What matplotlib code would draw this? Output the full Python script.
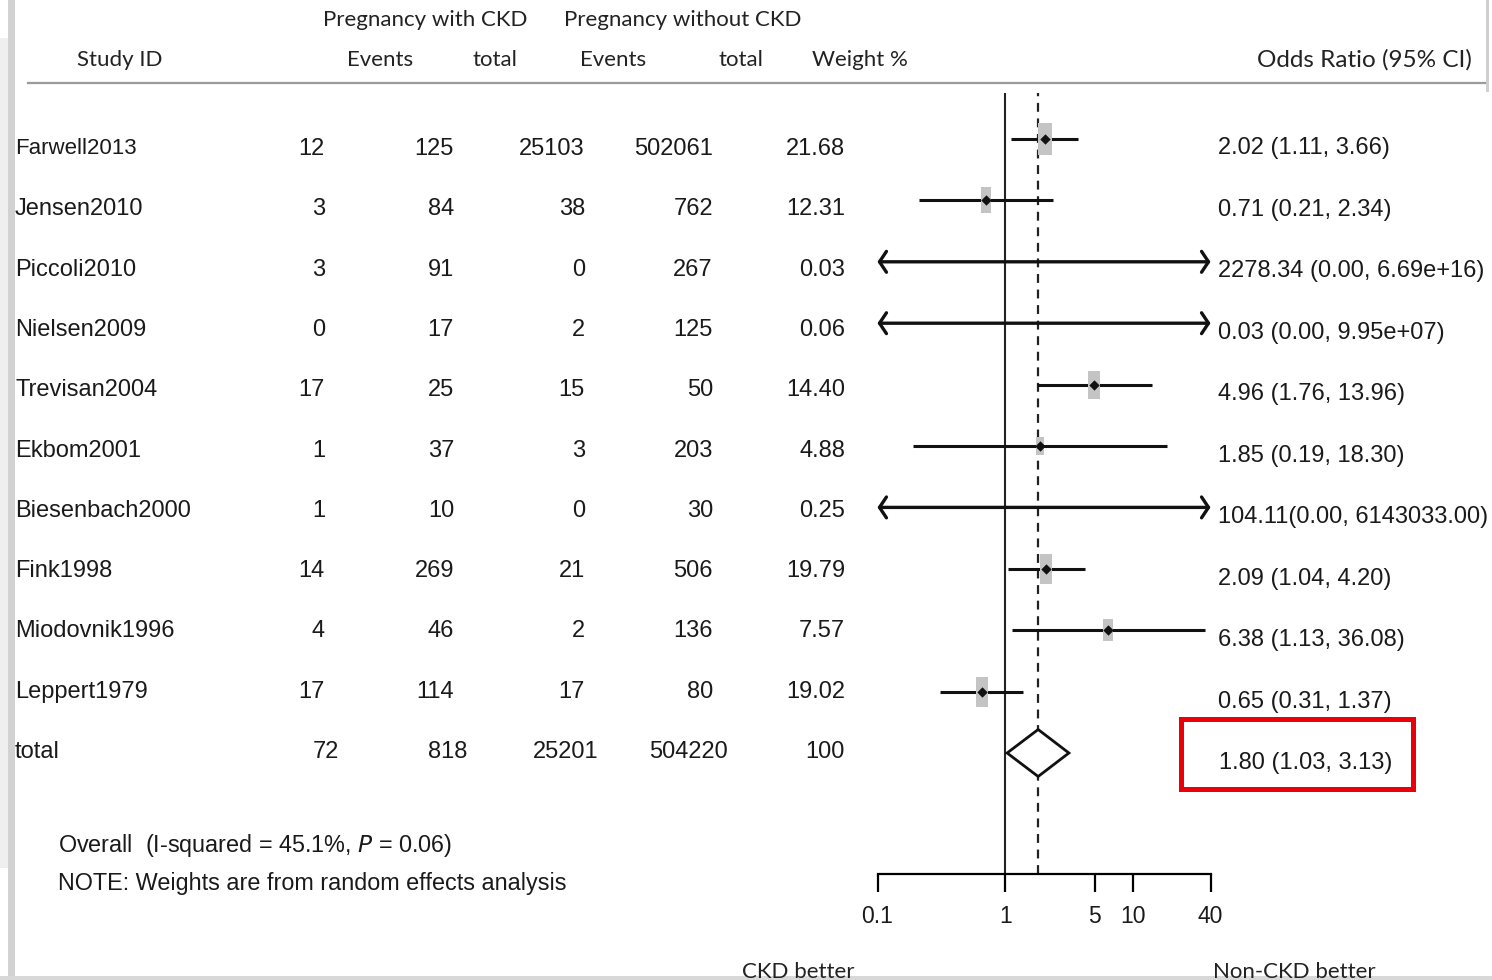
import matplotlib
matplotlib.use('Agg')
import matplotlib.pyplot as plt
from matplotlib.patches import Rectangle, Polygon

# ---- data ----
studies = ['Farwell2013', 'Jensen2010', 'Piccoli2010', 'Nielsen2009', 'Trevisan2004',
           'Ekbom2001', 'Biesenbach2000', 'Fink1998', 'Miodovnik1996', 'Leppert1979']
ev_ckd = [12, 3, 3, 0, 17, 1, 1, 14, 4, 17]
tot_ckd = [125, 84, 91, 17, 25, 37, 10, 269, 46, 114]
ev_non = [25103, 38, 0, 2, 15, 3, 0, 21, 2, 17]
tot_non = [502061, 762, 267, 125, 50, 203, 30, 506, 136, 80]
weights = ['21.68', '12.31', '0.03', '0.06', '14.40', '4.88', '0.25', '19.79', '7.57', '19.02']
odds = [2.02, 0.71, 2278.34, 0.03, 4.96, 1.85, 104.11, 2.09, 6.38, 0.65]
ci_lo = [1.11, 0.21, 0.00, 0.00, 1.76, 0.19, 0.00, 1.04, 1.13, 0.31]
ci_hi = [3.66, 2.34, 6.69e16, 9.95e7, 13.96, 18.30, 6143033.00, 4.20, 36.08, 1.37]
or_labels = ['2.02 (1.11, 3.66)', '0.71 (0.21, 2.34)', '2278.34 (0.00, 6.69e+16)',
             '0.03 (0.00, 9.95e+07)', '4.96 (1.76, 13.96)', '1.85 (0.19, 18.30)',
             '104.11(0.00, 6143033.00)', '2.09 (1.04, 4.20)', '6.38 (1.13, 36.08)',
             '0.65 (0.31, 1.37)']
total_row = ['total', 72, 818, 25201, 504220, '100']
pooled = (1.80, 1.03, 3.13)
pooled_label = '1.80 (1.03, 3.13)'
xticks = [0.1, 1, 5, 10, 40]
i2_text = 'Overall  (I-squared = 45.1%, $\\it{P}$ = 0.06)'
note_text = 'NOTE: Weights are from random effects analysis'

W, H = 1492, 980
XMIN, XMAX = 0.1, 40
TAB = 'Liberation Sans'
HEAD = 'Lato'
INK = '#1a1a1a'

fig = plt.figure(figsize=(W / 100, H / 100), dpi=100)
bg = fig.add_axes([0, 0, 1, 1])
bg.set_xlim(0, W)
bg.set_ylim(H, 0)
bg.axis('off')

# page edges (screenshot frame)
bg.add_patch(Rectangle((0, 38), 8, 830, color='#efefef', lw=0))
bg.add_patch(Rectangle((8, 0), 7, H, color='#d2d2d2', lw=0))
bg.add_patch(Rectangle((0, H - 4), W, 4, color='#d8d8d8', lw=0))
bg.add_patch(Rectangle((W - 6, 0), 3, 92, color='#cfcfcf', lw=0))

# header
bg.text(425, 20, 'Pregnancy with CKD', family=HEAD, fontsize=16, ha='center', va='center', color='#222')
bg.text(683, 20, 'Pregnancy without CKD', family=HEAD, fontsize=16, ha='center', va='center', color='#222')
for x, s in [(120, 'Study ID'), (380, 'Events'), (495, 'total'), (613, 'Events'),
             (741, 'total'), (860, 'Weight %')]:
    bg.text(x, 60, s, family=HEAD, fontsize=16, ha='center', va='center', color='#222')
bg.text(1472, 60, 'Odds Ratio (95% CI)', family=HEAD, fontsize=17.5, ha='right', va='center', color='#222')
bg.plot([28, 1485], [83, 83], color='#9a9a9a', lw=1.6)

# table
col_x = [325, 454, 585, 713, 845]
tot_x = [339, 467, 598, 728, 845]
for i, name in enumerate(studies):
    y = 149 + 60.3 * i
    bg.text(15, y, name, family=TAB, fontsize=16 if i == 0 else 17, ha='left', va='center', color=INK)
    vals = [ev_ckd[i], tot_ckd[i], ev_non[i], tot_non[i], weights[i]]
    for x, v in zip(col_x, vals):
        bg.text(x, y, str(v), family=TAB, fontsize=17, ha='right', va='center', color=INK)
    bg.text(1218, 148 + 61.5 * i, or_labels[i], family=TAB, fontsize=17, ha='left', va='center', color=INK)

yt = 149 + 60.3 * len(studies)
bg.text(15, yt, total_row[0], family=TAB, fontsize=17, ha='left', va='center', color=INK)
for x, v in zip(tot_x, total_row[1:]):
    bg.text(x, yt, str(v), family=TAB, fontsize=17, ha='right', va='center', color=INK)
ypl = 148 + 61.5 * len(studies)
bg.text(1219, ypl, pooled_label, family=TAB, fontsize=17, ha='left', va='center', color=INK)
bg.add_patch(Rectangle((1181, 719), 232, 70, fill=False, ec='#e8000b', lw=3.6))

bg.text(58, 845, i2_text, family=TAB, fontsize=16.8, ha='left', va='center', color=INK)
bg.text(58, 883, note_text, family=TAB, fontsize=16.8, ha='left', va='center', color=INK)
bg.text(798, 972, 'CKD better', family=HEAD, fontsize=16, ha='center', va='center', color='#222')
bg.text(1213, 972, 'Non-CKD better', family=HEAD, fontsize=16, ha='left', va='center', color='#222')

# forest plot axes, y in the same pixel rows as the table
x0, x1, ytop, ybot = 877.5, 1210.5, 93, 874
ax = fig.add_axes([x0 / W, (H - ybot) / H, (x1 - x0) / W, (ybot - ytop) / H])
ax.set_xscale('log')
ax.set_xlim(XMIN, XMAX)
ax.set_ylim(ybot, ytop)
ax.patch.set_alpha(0)
for s in ['top', 'left', 'right']:
    ax.spines[s].set_visible(False)
ax.spines['bottom'].set_linewidth(1.6)
ax.set_yticks([])
ax.set_xticks(xticks)
ax.set_xticklabels([str(t) for t in xticks], family=TAB, fontsize=16.5, color=INK)
ax.minorticks_off()
ax.tick_params(axis='x', direction='out', length=13, width=1.6, pad=9)
ax.get_xticklabels()[0].set_x(0.09)

ax.axvline(1, color='#222', lw=1.5)
ax.axvline(pooled[0], color='#222', lw=1.6, ls=(0, (4, 3)))

for i in range(len(studies)):
    y = 139 + 61.4 * i
    lo = max(ci_lo[i], XMIN)
    hi = min(ci_hi[i], XMAX)
    if ci_lo[i] < XMIN or ci_hi[i] > XMAX:
        left = '<' if ci_lo[i] < XMIN else ''
        right = '>' if ci_hi[i] > XMAX else ''
        ax.annotate('', xy=(hi, y), xytext=(lo, y), annotation_clip=False,
                    arrowprops=dict(arrowstyle=left + '-' + right + ',head_length=0.5,head_width=0.75',
                                    color='#111', lw=2.4, shrinkA=0, shrinkB=0))
    else:
        ax.plot([lo, hi], [y, y], color='#111', lw=2.2, solid_capstyle='butt')
    w = float(weights[i])
    ax.scatter([odds[i]], [y], s=60 * w ** 0.7, marker=[(-0.42, -1), (0.42, -1), (0.42, 1), (-0.42, 1)],
               color='#c4c4c4', lw=0, zorder=2)
    ax.scatter([odds[i]], [y], s=28, marker='D', color='#111', lw=0, zorder=3)

yd = 139 + 61.4 * len(studies)
ax.add_patch(Polygon([(pooled[1], yd), (pooled[0], yd - 23.5), (pooled[2], yd), (pooled[0], yd + 23.5)],
                     closed=True, facecolor='white', edgecolor='#111', lw=2, zorder=4))

fig.savefig('out.png', dpi=100)
